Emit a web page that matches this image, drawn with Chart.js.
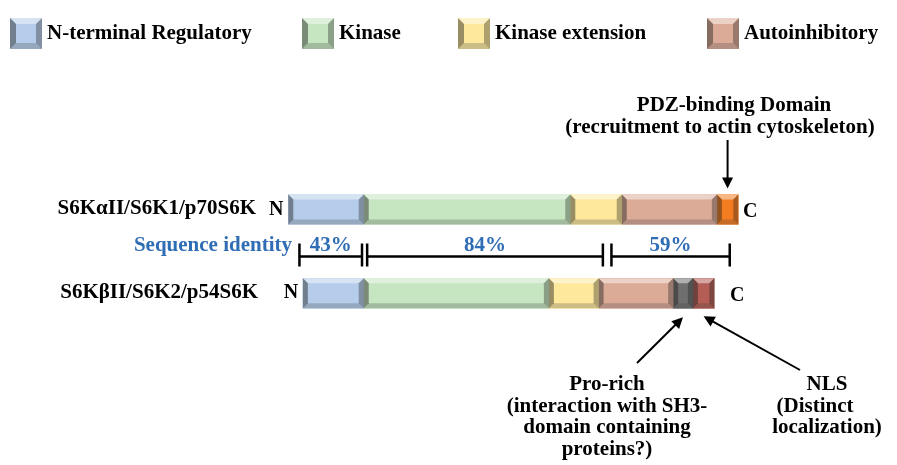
<!DOCTYPE html>
<html>
<head>
<meta charset="utf-8">
<script src="https://cdn.jsdelivr.net/npm/chart.js@4"></script>
<style>
  html, body { margin: 0; padding: 0; background: #fff; }
  #wrap { width: 897px; height: 465px; position: relative; }
</style>
</head>
<body>
<div id="wrap"><canvas id="c"></canvas></div>
<script>
// rows (isoforms)
const rowLabels = ['S6KαII/S6K1/p70S6K', 'S6KβII/S6K2/p54S6K'];
const domainNames = ['N-terminal Regulatory', 'Kinase', 'Kinase extension', 'Autoinhibitory'];

// domain boundaries, in residues
const s6k1Bounds = [0, 88, 329, 389, 500, 525];        // Nterm, kinase, ext, autoinh, PDZ
const s6k2Bounds = [17, 88, 304, 362, 449, 472, 497];  // Nterm, kinase, ext, autoinh, Pro-rich, NLS

// sequence identity brackets
const identitySpans = [[13, 86], [92, 367], [377, 515]];
const identityPct = ['43%', '84%', '59%'];

const COLORS = {
  nterm:   '#b5cdea',
  kinase:  '#c5e6c0',
  ext:     '#fde89c',
  autoinh: '#dcab98',
  pdz:     '#f47c20',
  prorich: '#6f6f6f',
  nls:     '#b35d55',
};
const BLUE = '#2f6db5';
const FONT = '"Liberation Serif", "DejaVu Serif", serif';

function span(b, i) { return [b[i], b[i + 1]]; }

const datasets = [
  { label: domainNames[0], data: [span(s6k1Bounds, 0), span(s6k2Bounds, 0)], backgroundColor: COLORS.nterm },
  { label: domainNames[1], data: [span(s6k1Bounds, 1), span(s6k2Bounds, 1)], backgroundColor: COLORS.kinase },
  { label: domainNames[2], data: [span(s6k1Bounds, 2), span(s6k2Bounds, 2)], backgroundColor: COLORS.ext },
  { label: domainNames[3], data: [span(s6k1Bounds, 3), span(s6k2Bounds, 3)], backgroundColor: COLORS.autoinh },
  { label: 'PDZ-binding', data: [span(s6k1Bounds, 4), null], backgroundColor: COLORS.pdz },
  { label: 'Pro-rich', data: [null, span(s6k2Bounds, 4)], backgroundColor: COLORS.prorich },
  { label: 'NLS', data: [null, span(s6k2Bounds, 5)], backgroundColor: COLORS.nls },
].map(d => Object.assign(d, { grouped: false, barThickness: 30, borderWidth: 0 }));

// bevelled box like the PowerPoint shapes
function bevelBox(ctx, x0, y0, x1, y1, color, b, fillBase) {
  if (fillBase) { ctx.fillStyle = color; ctx.fillRect(x0, y0, x1 - x0, y1 - y0); }
  const poly = (pts, fill) => {
    ctx.fillStyle = fill;
    ctx.beginPath();
    ctx.moveTo(pts[0][0], pts[0][1]);
    for (let i = 1; i < pts.length; i++) ctx.lineTo(pts[i][0], pts[i][1]);
    ctx.closePath();
    ctx.fill();
  };
  poly([[x0, y0], [x1, y0], [x1 - b, y0 + b], [x0 + b, y0 + b]], 'rgba(255,255,255,0.45)');
  poly([[x0, y1], [x1, y1], [x1 - b, y1 - b], [x0 + b, y1 - b]], 'rgba(60,60,60,0.25)');
  poly([[x0, y0], [x0 + b, y0 + b], [x0 + b, y1 - b], [x0, y1]], 'rgba(30,30,30,0.45)');
  poly([[x1, y0], [x1 - b, y0 + b], [x1 - b, y1 - b], [x1, y1]], 'rgba(30,30,30,0.35)');
}

function arrow(ctx, x0, y0, x1, y1) {
  const a = Math.atan2(y1 - y0, x1 - x0);
  const len = 11, w = 5.5;
  ctx.strokeStyle = '#000';
  ctx.fillStyle = '#000';
  ctx.lineWidth = 2;
  ctx.beginPath();
  ctx.moveTo(x0, y0);
  ctx.lineTo(x1 - Math.cos(a) * len * 0.8, y1 - Math.sin(a) * len * 0.8);
  ctx.stroke();
  ctx.beginPath();
  ctx.moveTo(x1, y1);
  ctx.lineTo(x1 - Math.cos(a) * len - Math.sin(a) * w, y1 - Math.sin(a) * len + Math.cos(a) * w);
  ctx.lineTo(x1 - Math.cos(a) * len + Math.sin(a) * w, y1 - Math.sin(a) * len - Math.cos(a) * w);
  ctx.closePath();
  ctx.fill();
}

const bevelPlugin = {
  id: 'bevel',
  afterDatasetsDraw(chart) {
    const ctx = chart.ctx;
    ctx.save();
    chart.data.datasets.forEach((ds, i) => {
      chart.getDatasetMeta(i).data.forEach((el, j) => {
        if (!ds.data[j]) return;
        const p = el.getProps(['x', 'y', 'base', 'height'], true);
        const x0 = Math.min(p.x, p.base), x1 = Math.max(p.x, p.base);
        bevelBox(ctx, x0, p.y - p.height / 2, x1, p.y + p.height / 2, ds.backgroundColor, 5, false);
      });
    });
    ctx.restore();
  },
};

const annotationPlugin = {
  id: 'annotations',
  afterDraw(chart) {
    const ctx = chart.ctx;
    const xs = chart.scales.x, ys = chart.scales.y;
    const r1 = ys.getPixelForValue(0), r2 = ys.getPixelForValue(1);
    const half = 15;
    ctx.save();
    ctx.textBaseline = 'middle';

    // legend
    const legendX = [10, 302, 458, 707];
    const legendCol = [COLORS.nterm, COLORS.kinase, COLORS.ext, COLORS.autoinh];
    ctx.font = 'bold 21px ' + FONT;
    domainNames.forEach((name, i) => {
      bevelBox(ctx, legendX[i], 18, legendX[i] + 32, 49, legendCol[i], 6, true);
      ctx.fillStyle = '#000';
      ctx.textAlign = 'left';
      ctx.fillText(name, legendX[i] + 37, 34);
    });

    // row labels, N / C ends
    ctx.fillStyle = '#000';
    ctx.textAlign = 'right';
    ctx.fillText(rowLabels[0], 256, r1 - 1);
    ctx.fillText(rowLabels[1], 258, r2 - 1);
    ctx.textAlign = 'center';
    ctx.font = 'bold 20px ' + FONT;
    ctx.fillText('N', xs.getPixelForValue(s6k1Bounds[0]) - 12, r1);
    ctx.fillText('N', xs.getPixelForValue(s6k2Bounds[0]) - 12, r2);
    ctx.fillText('C', xs.getPixelForValue(s6k1Bounds[s6k1Bounds.length - 1]) + 12, r1 + 2);
    ctx.fillText('C', xs.getPixelForValue(s6k2Bounds[s6k2Bounds.length - 1]) + 23, r2 + 3);

    // sequence identity brackets
    const by = (r1 + r2) / 2 + 5;
    ctx.fillStyle = BLUE;
    ctx.font = 'bold 21px ' + FONT;
    ctx.textAlign = 'right';
    ctx.fillText('Sequence identity', 292, by - 11);
    ctx.strokeStyle = '#000';
    ctx.lineWidth = 2.5;
    identitySpans.forEach((s, i) => {
      const a = xs.getPixelForValue(s[0]), b = xs.getPixelForValue(s[1]);
      ctx.beginPath();
      ctx.moveTo(a, by); ctx.lineTo(b, by);
      ctx.moveTo(a, by - 13); ctx.lineTo(a, by + 10);
      ctx.moveTo(b, by - 13); ctx.lineTo(b, by + 10);
      ctx.stroke();
      ctx.textAlign = 'center';
      ctx.fillStyle = BLUE;
      ctx.font = 'bold 21px ' + FONT;
      ctx.fillText(identityPct[i], (a + b) / 2, by - 11);
    });

    // PDZ-binding domain callout
    ctx.fillStyle = '#000';
    ctx.font = 'bold 21px ' + FONT;
    ctx.textAlign = 'center';
    ctx.fillText('PDZ-binding Domain', 734, 106);
    ctx.fillText('(recruitment to actin cytoskeleton)', 720, 128);
    const pdzX = xs.getPixelForValue((s6k1Bounds[4] + s6k1Bounds[5]) / 2);
    arrow(ctx, pdzX, 140, pdzX, r1 - half - 6);

    // Pro-rich and NLS callouts
    const proX = xs.getPixelForValue((s6k2Bounds[4] + s6k2Bounds[5]) / 2);
    const nlsX = xs.getPixelForValue((s6k2Bounds[5] + s6k2Bounds[6]) / 2);
    arrow(ctx, 637, 363, proX, r2 + half + 9);
    arrow(ctx, 800, 370, nlsX, r2 + half + 8);
    ['Pro-rich', '(interaction with SH3-', 'domain containing', 'proteins?)']
      .forEach((t, i) => ctx.fillText(t, 607, 385 + i * 21.5));
    ctx.fillText('NLS', 827, 385);
    ctx.fillText('(Distinct', 815, 406.5);
    ctx.fillText('localization)', 827, 428);
    ctx.restore();
  },
};

// residues <-> pixels: 525 aa spans 450 px, starting at x = 288
const PX_PER_AA = 450 / 525;
const X_MIN = -288.3 / PX_PER_AA, X_MAX = (897 - 288.3) / PX_PER_AA;

new Chart(document.getElementById('c'), {
  type: 'bar',
  data: { labels: rowLabels, datasets },
  options: {
    indexAxis: 'y',
    responsive: true,
    maintainAspectRatio: false,
    animation: false,
    events: [],
    layout: { padding: { top: 167.6, bottom: 129.8, left: 0, right: 0 } },
    scales: {
      x: { type: 'linear', min: X_MIN, max: X_MAX, display: false },
      y: { type: 'category', display: false },
    },
    plugins: { legend: { display: false }, tooltip: { enabled: false } },
  },
  plugins: [bevelPlugin, annotationPlugin],
});
</script>
</body>
</html>
